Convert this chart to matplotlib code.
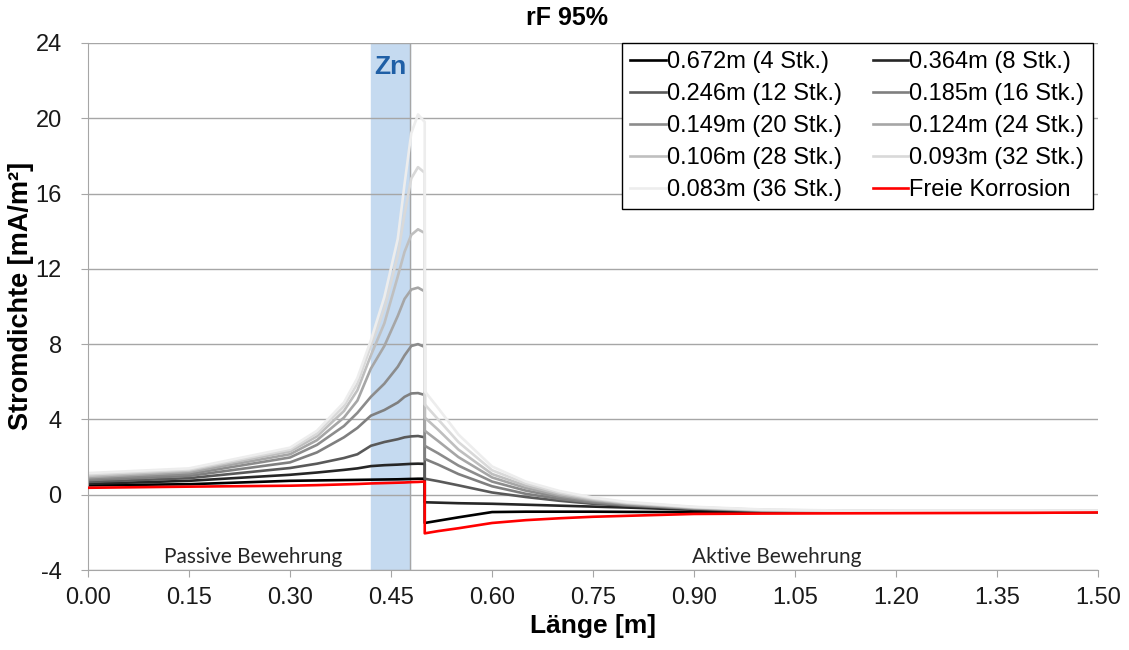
import numpy as np
import matplotlib
matplotlib.use('Agg')
import matplotlib.pyplot as plt
import matplotlib.ticker as ticker

plt.rcParams['font.family'] = ['Liberation Sans', 'DejaVu Sans']
plt.rcParams['axes.unicode_minus'] = False

# passive side (left of the anode, x <= 0.5)
x_pas = [0, 0.15, 0.3, 0.34, 0.38, 0.4, 0.42, 0.44, 0.46, 0.47, 0.48, 0.49, 0.5]
# active side (right of x = 0.5)
x_akt = [0.5, 0.52, 0.55, 0.6, 0.65, 0.7, 0.75, 0.8, 0.9, 1.0, 1.1, 1.2, 1.3, 1.4, 1.5]

labels = ['0.672m (4 Stk.)', '0.364m (8 Stk.)', '0.246m (12 Stk.)', '0.185m (16 Stk.)',
          '0.149m (20 Stk.)', '0.124m (24 Stk.)', '0.106m (28 Stk.)', '0.093m (32 Stk.)',
          '0.083m (36 Stk.)']

pas_4  = [0.50, 0.56, 0.74, 0.76, 0.78, 0.79, 0.80, 0.81, 0.82, 0.83, 0.84, 0.85, 0.85]
pas_8  = [0.58, 0.74, 1.06, 1.18, 1.32, 1.40, 1.52, 1.57, 1.60, 1.62, 1.64, 1.65, 1.64]
pas_12 = [0.68, 0.88, 1.42, 1.65, 1.95, 2.15, 2.60, 2.80, 2.95, 3.05, 3.10, 3.12, 3.05]
pas_16 = [0.78, 1.00, 1.72, 2.25, 3.05, 3.55, 4.20, 4.50, 4.90, 5.20, 5.38, 5.40, 5.30]
pas_20 = [0.86, 1.10, 1.98, 2.65, 3.65, 4.35, 5.20, 5.90, 6.80, 7.40, 7.90, 8.00, 7.85]
pas_24 = [0.93, 1.20, 2.15, 2.90, 4.10, 5.00, 6.70, 7.90, 9.50, 10.40, 10.90, 11.00, 10.80]
pas_28 = [1.00, 1.28, 2.30, 3.10, 4.45, 5.55, 7.40, 9.10, 11.60, 12.90, 13.80, 14.10, 13.90]
pas_32 = [1.08, 1.34, 2.40, 3.25, 4.70, 5.90, 7.90, 9.90, 12.70, 14.90, 16.80, 17.40, 17.10]
pas_36 = [1.15, 1.40, 2.50, 3.40, 4.90, 6.20, 8.20, 10.50, 13.60, 16.50, 19.20, 20.20, 19.80]
pas_frei = [0.37, 0.43, 0.48, 0.51, 0.55, 0.57, 0.60, 0.62, 0.64, 0.65, 0.67, 0.68, 0.70]

akt_4  = [-1.50, -1.38, -1.20, -0.92, -0.90, -0.90, -0.90, -0.91, -0.92, -0.93, -0.93, -0.93, -0.93, -0.93, -0.92]
akt_8  = [-0.40, -0.42, -0.45, -0.48, -0.53, -0.58, -0.63, -0.68, -0.80, -0.88, -0.91, -0.92, -0.92, -0.92, -0.91]
akt_12 = [0.85, 0.72, 0.50, 0.12, -0.12, -0.32, -0.48, -0.58, -0.75, -0.85, -0.89, -0.91, -0.91, -0.91, -0.90]
akt_16 = [1.90, 1.60, 1.10, 0.45, 0.05, -0.22, -0.42, -0.55, -0.73, -0.84, -0.88, -0.90, -0.90, -0.90, -0.89]
akt_20 = [2.60, 2.20, 1.55, 0.70, 0.22, -0.12, -0.36, -0.52, -0.72, -0.83, -0.87, -0.89, -0.89, -0.89, -0.88]
akt_24 = [3.40, 2.85, 2.00, 0.92, 0.36, -0.04, -0.30, -0.48, -0.70, -0.82, -0.86, -0.88, -0.88, -0.88, -0.87]
akt_28 = [4.10, 3.45, 2.40, 1.10, 0.48, 0.04, -0.25, -0.45, -0.68, -0.81, -0.85, -0.87, -0.87, -0.87, -0.86]
akt_32 = [4.80, 4.00, 2.80, 1.30, 0.60, 0.12, -0.20, -0.42, -0.66, -0.80, -0.84, -0.86, -0.86, -0.86, -0.85]
akt_36 = [5.50, 4.60, 3.20, 1.50, 0.70, 0.20, -0.15, -0.38, -0.64, -0.78, -0.83, -0.85, -0.85, -0.85, -0.84]
akt_frei = [-2.05, -1.93, -1.78, -1.50, -1.35, -1.25, -1.17, -1.12, -1.02, -1.00, -0.99, -0.98, -0.97, -0.96, -0.94]

pas_all = [pas_4, pas_8, pas_12, pas_16, pas_20, pas_24, pas_28, pas_32, pas_36]
akt_all = [akt_4, akt_8, akt_12, akt_16, akt_20, akt_24, akt_28, akt_32, akt_36]
colors = ['#000000', '#262626', '#595959', '#7f7f7f', '#8c8c8c', '#a6a6a6', '#bfbfbf', '#d9d9d9', '#ededed']

fig = plt.figure(figsize=(11.29, 6.5), dpi=100)
ax = fig.add_axes([0.078, 0.123, 0.8946, 0.811])

# Zn anode zone
ax.axvspan(0.42, 0.478, color='#c5daf0', zorder=0)
ax.axvline(0.478, color='#a6a6a6', lw=1, zorder=0.5)
ax.text(0.449, 22.7, 'Zn', color='#1f5fa6', fontsize=19, fontweight='bold', ha='center', va='center')

handles = []
for pas, akt, c, lab in zip(pas_all, akt_all, colors, labels):
    h, = ax.plot(x_pas + x_akt, pas + akt, color=c, lw=1.9, label=lab, zorder=2)
    handles.append(h)
h, = ax.plot(x_pas + x_akt, pas_frei + akt_frei, color='#ff0000', lw=1.9, label='Freie Korrosion', zorder=3)
handles.append(h)

ax.set_xlim(0, 1.5)
ax.set_ylim(-4, 24)
ax.xaxis.set_major_locator(ticker.MultipleLocator(0.15))
ax.xaxis.set_major_formatter(ticker.FormatStrFormatter('%.2f'))
ax.yaxis.set_major_locator(ticker.MultipleLocator(4))
ax.grid(True, axis='y', color='#a6a6a6', lw=1)
ax.set_axisbelow(True)
for s in ['top', 'right']:
    ax.spines[s].set_visible(False)
for s in ['left', 'bottom']:
    ax.spines[s].set_color('#a6a6a6')
ax.tick_params(axis='both', colors='#a6a6a6', labelcolor='#1a1a1a', labelsize=17, length=5, direction='out')
ax.tick_params(axis='x', pad=7)
ax.tick_params(axis='y', pad=14)

ax.set_xlabel('Länge [m]', fontsize=19, fontweight='bold', labelpad=4)
ax.set_ylabel('Stromdichte [mA/m²]', fontsize=19.5, fontweight='bold')
ax.yaxis.set_label_coords(-0.0535, 0.52)
fig.text(0.502, 0.972, 'rF 95%', fontsize=18, fontweight='bold', ha='center', va='center')

ax.text(0.245, -3.3, 'Passive Bewehrung', fontsize=15, family=['Lato', 'DejaVu Sans'], color='#262626', ha='center', va='center')
ax.text(1.023, -3.3, 'Aktive Bewehrung', fontsize=15, family=['Lato', 'DejaVu Sans'], color='#262626', ha='center', va='center')

# row-major legend order like the original
order = [0, 2, 4, 6, 8, 1, 3, 5, 7, 9]
leg = ax.legend([handles[i] for i in order], [handles[i].get_label() for i in order],
                ncol=2, loc='upper right', bbox_to_anchor=(0.9945, 1.0), borderaxespad=0, fontsize=17,
                frameon=True, fancybox=False, edgecolor='#000000', framealpha=1,
                handlelength=1.5, handletextpad=0.05, columnspacing=1.3, labelspacing=0.42,
                borderpad=0.35)
leg.get_frame().set_linewidth(1.0)

fig.savefig('out.png', dpi=100)
